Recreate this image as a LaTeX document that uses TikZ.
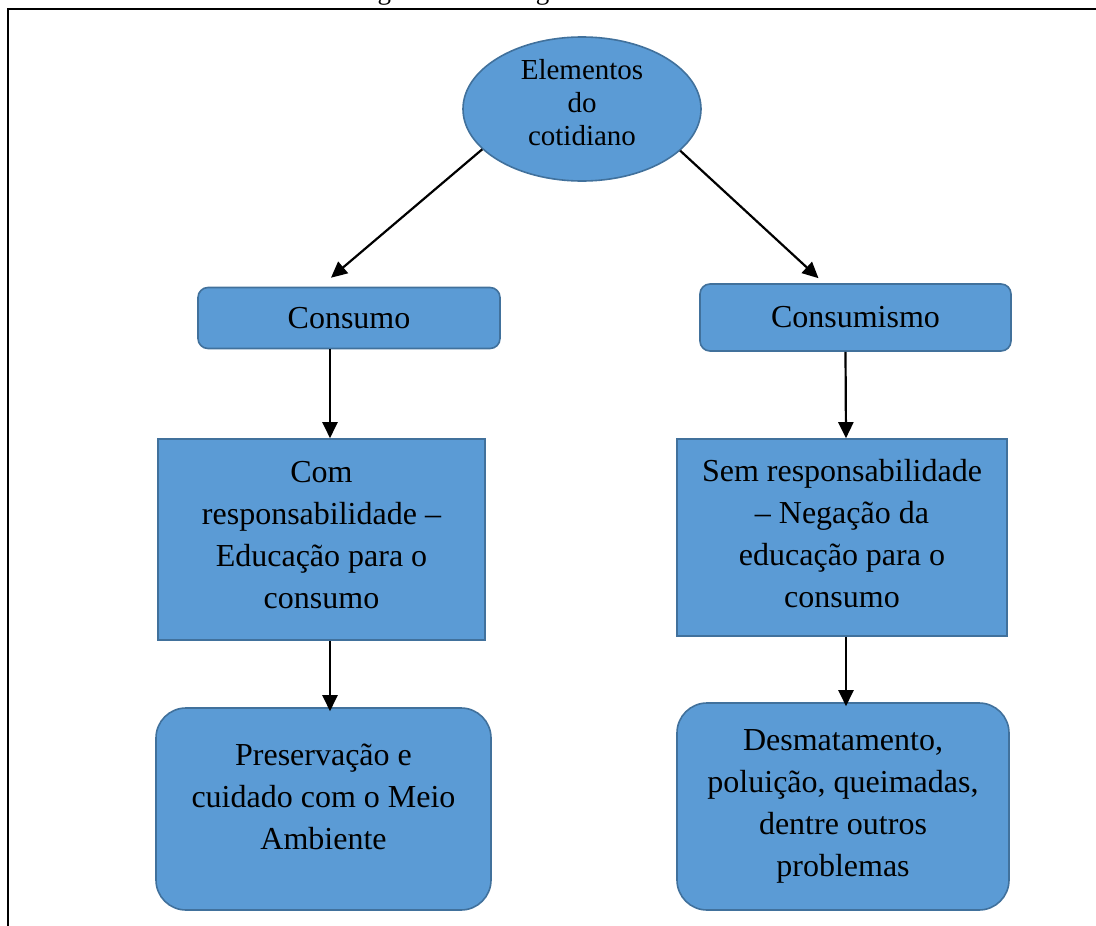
\documentclass[tikz,border=0pt]{standalone}
\usepackage{fontspec}
\setmainfont{Liberation Serif}
\usepackage{tikz}
\usetikzlibrary{arrows.meta,shapes.geometric}

\definecolor{boxblue}{HTML}{5B9BD5}
\definecolor{boxline}{HTML}{41719C}

\begin{document}
\begin{tikzpicture}[x=1pt,y=-1pt,
    caixa/.style={draw=boxline, fill=boxblue, line width=1.6pt, inner sep=0pt, align=center,
                  font=\fontsize{32}{42}\selectfont},
    redonda/.style={caixa, rounded corners=10pt},
    seta/.style={-{Triangle[length=16pt,width=15pt]}, line width=2.2pt}]
            \useasboundingbox (0,0) rectangle (1096,926);
            \clip (0,0) rectangle (1096,926);
            \node[anchor=base, font=\fontsize{27}{30}\selectfont] (titulo) at (615,-1)
                {Figura 1 -- Fluxograma: Elementos do cotidiano};
            \draw[line width=2pt] (8,930) -- (8,9) -- (1100,9);
            \node[caixa, ellipse, minimum width=238, minimum height=144,
                  font=\fontsize{29}{33}\selectfont] (elem) at (582,109)
                {Elementos\\do\\cotidiano\\[-20pt]};
            \node[redonda, minimum width=302, minimum height=61] (cons) at (349,318) {Consumo};
            \node[redonda, minimum width=311, minimum height=67] (consm) at (855.5,317.5) {Consumismo};
            \node[caixa, minimum width=327, minimum height=201] (com) at (321.5,539.5)
                {Com\\responsabilidade --\\Educação para o\\consumo\\[-32pt]};
            \node[caixa, minimum width=330, minimum height=197] (sem) at (842,537.5)
                {Sem responsabilidade\\-- Negação da\\educação para o\\consumo\\[-34pt]};
            \node[caixa, rounded corners=30pt, minimum width=335, minimum height=202] (pres) at (323.5,809)
                {Preservação e\\cuidado com o Meio\\Ambiente\\[-17pt]};
            \node[caixa, rounded corners=30pt, minimum width=332, minimum height=207] (desm) at (843,806.5)
                {Desmatamento,\\poluição, queimadas,\\dentre outros\\problemas};
            \draw[seta] (elem.202) -- ([xshift=-18pt,yshift=9pt]cons.north);
            \draw[seta] (elem.337) -- ([xshift=-37pt,yshift=5pt]consm.north);
            \draw[seta] ([xshift=-19pt]cons.south) -- ([xshift=8.5pt]com.north);
            \draw[seta] ([xshift=-10pt]consm.south) -- ([xshift=4pt]sem.north);
            \draw[seta] ([xshift=8.5pt]com.south) -- ([xshift=6.5pt,yshift=-4pt]pres.north);
            \draw[seta] ([xshift=4pt]sem.south) -- ([xshift=3pt,yshift=-4pt]desm.north);
        \end{tikzpicture}
\end{document}
